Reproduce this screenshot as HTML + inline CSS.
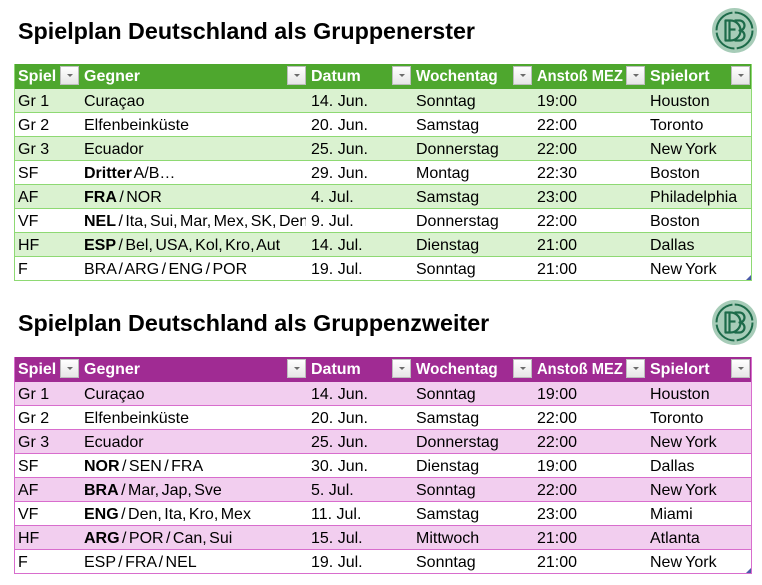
<!DOCTYPE html>
<html>
<head>
<meta charset="utf-8">
<style>
html,body{margin:0;padding:0;background:#fff;}
body{width:762px;height:585px;position:relative;overflow:hidden;font-family:"Liberation Sans",Arial,sans-serif;color:#000;}
.title{position:absolute;left:18px;font-weight:bold;font-size:23.3px;line-height:28px;white-space:nowrap;color:#000;}
.tbl{position:absolute;left:14px;width:738px;box-sizing:border-box;}
.g{border-left:1px solid #8ed973;border-right:1px solid #8ed973;}
.p{border-left:1px solid #d86dcd;border-right:1px solid #d86dcd;}
.hd{position:relative;height:25px;}
.g .hd{background:#4ea72e;}
.p .hd{background:#a02b93;}
.r{position:relative;height:24px;box-sizing:border-box;}
.g .r{border-bottom:1px solid #8ed973;}
.p .r{border-bottom:1px solid #d86dcd;}
.g .b{background:#daf2d0;}
.p .b{background:#f2ceef;}
.c{position:absolute;top:1px;line-height:24px;font-size:16px;white-space:nowrap;}
.hd .c{color:#fff;font-weight:bold;top:1px;}
.c1{left:3px;}
.c2{left:69px;width:222px;overflow:hidden;}
.r .c2{word-spacing:-2px;}
.r .c6{word-spacing:-1px;}
.c3{left:296px;}
.c4{left:401px;}
.c5{left:522px;}
.c6{left:635px;}
.dd{position:absolute;top:2px;width:19px;height:19px;box-sizing:border-box;border:1px solid #bdbdbd;background:linear-gradient(#ffffff,#e6e6e6);}
.dd:after{content:"";position:absolute;left:6px;top:7px;border-left:3px solid transparent;border-right:3px solid transparent;border-top:3px solid #6b6b6b;}
.sq{display:inline-block;transform-origin:left center;}
.corner{position:absolute;right:0;bottom:0;width:5px;height:5px;background:#4a5aa8;clip-path:polygon(100% 0,100% 100%,0 100%);}
.logo{position:absolute;}
</style>
</head>
<body>

<div class="title" style="top:17px;">Spielplan Deutschland als Gruppenerster</div>

<svg class="logo" style="left:711px;top:7px;" width="47" height="47" viewBox="-23.5 -23.5 47 47">
  <circle cx="0" cy="0" r="22.5" fill="#a7ccb8"/>
  <circle cx="0" cy="0" r="18" fill="none" stroke="#1d6b4a" stroke-width="2" stroke-dasharray="26 2.3"/>
  <g fill="none" stroke="#1d6b4a" stroke-width="2.2" stroke-linejoin="round">
    <path d="M-9,-10 L-9,10 L-4,10 A10,10 0 0 0 -4,-10 Z"/>
    <path d="M-5,-10 L-5,10"/>
    <path d="M-5,-1 L1,-1"/>
    <path d="M0,-10 L5,-10 A5,5 0 0 1 5,0 A5,5 0 0 1 5,10 L0,10"/>
  </g>
</svg>

<div class="tbl g" style="top:64px;">
  <div class="hd">
    <span class="c c1">Spiel</span><div class="dd" style="left:45px;"></div>
    <span class="c c2" style="width:200px;">Gegner</span><div class="dd" style="left:272px;"></div>
    <span class="c c3">Datum</span><div class="dd" style="left:377px;"></div>
    <span class="c c4"><span class="sq" style="transform:scaleX(0.95)">Wochentag</span></span><div class="dd" style="left:498px;"></div>
    <span class="c c5"><span class="sq" style="transform:scaleX(0.92)">Anstoß MEZ</span></span><div class="dd" style="left:611px;"></div>
    <span class="c c6">Spielort</span><div class="dd" style="left:716px;"></div>
  </div>
  <div class="r b"><span class="c c1">Gr 1</span><span class="c c2">Curaçao</span><span class="c c3">14. Jun.</span><span class="c c4">Sonntag</span><span class="c c5">19:00</span><span class="c c6">Houston</span></div>
  <div class="r"><span class="c c1">Gr 2</span><span class="c c2">Elfenbeinküste</span><span class="c c3">20. Jun.</span><span class="c c4">Samstag</span><span class="c c5">22:00</span><span class="c c6">Toronto</span></div>
  <div class="r b"><span class="c c1">Gr 3</span><span class="c c2">Ecuador</span><span class="c c3">25. Jun.</span><span class="c c4">Donnerstag</span><span class="c c5">22:00</span><span class="c c6">New York</span></div>
  <div class="r"><span class="c c1">SF</span><span class="c c2"><b>Dritter</b> A/B…</span><span class="c c3">29. Jun.</span><span class="c c4">Montag</span><span class="c c5">22:30</span><span class="c c6">Boston</span></div>
  <div class="r b"><span class="c c1">AF</span><span class="c c2"><b>FRA</b> / NOR</span><span class="c c3">4. Jul.</span><span class="c c4">Samstag</span><span class="c c5">23:00</span><span class="c c6">Philadelphia</span></div>
  <div class="r"><span class="c c1">VF</span><span class="c c2"><b>NEL</b> / Ita, Sui, Mar, Mex, SK, Den</span><span class="c c3">9. Jul.</span><span class="c c4">Donnerstag</span><span class="c c5">22:00</span><span class="c c6">Boston</span></div>
  <div class="r b"><span class="c c1">HF</span><span class="c c2"><b>ESP</b> / Bel, USA, Kol, Kro, Aut</span><span class="c c3">14. Jul.</span><span class="c c4">Dienstag</span><span class="c c5">21:00</span><span class="c c6">Dallas</span></div>
  <div class="r"><span class="c c1">F</span><span class="c c2">BRA / ARG / ENG / POR</span><span class="c c3">19. Jul.</span><span class="c c4">Sonntag</span><span class="c c5">21:00</span><span class="c c6">New York</span><div class="corner"></div></div>
</div>

<div class="title" style="top:309px;">Spielplan Deutschland als Gruppenzweiter</div>

<svg class="logo" style="left:711px;top:299px;" width="47" height="47" viewBox="-23.5 -23.5 47 47">
  <circle cx="0" cy="0" r="22.5" fill="#a7ccb8"/>
  <circle cx="0" cy="0" r="18" fill="none" stroke="#1d6b4a" stroke-width="2" stroke-dasharray="26 2.3"/>
  <g fill="none" stroke="#1d6b4a" stroke-width="2.2" stroke-linejoin="round">
    <path d="M-9,-10 L-9,10 L-4,10 A10,10 0 0 0 -4,-10 Z"/>
    <path d="M-5,-10 L-5,10"/>
    <path d="M-5,-1 L1,-1"/>
    <path d="M0,-10 L5,-10 A5,5 0 0 1 5,0 A5,5 0 0 1 5,10 L0,10"/>
  </g>
</svg>

<div class="tbl p" style="top:357px;">
  <div class="hd">
    <span class="c c1">Spiel</span><div class="dd" style="left:45px;"></div>
    <span class="c c2" style="width:200px;">Gegner</span><div class="dd" style="left:272px;"></div>
    <span class="c c3">Datum</span><div class="dd" style="left:377px;"></div>
    <span class="c c4"><span class="sq" style="transform:scaleX(0.95)">Wochentag</span></span><div class="dd" style="left:498px;"></div>
    <span class="c c5"><span class="sq" style="transform:scaleX(0.92)">Anstoß MEZ</span></span><div class="dd" style="left:611px;"></div>
    <span class="c c6">Spielort</span><div class="dd" style="left:716px;"></div>
  </div>
  <div class="r b"><span class="c c1">Gr 1</span><span class="c c2">Curaçao</span><span class="c c3">14. Jun.</span><span class="c c4">Sonntag</span><span class="c c5">19:00</span><span class="c c6">Houston</span></div>
  <div class="r"><span class="c c1">Gr 2</span><span class="c c2">Elfenbeinküste</span><span class="c c3">20. Jun.</span><span class="c c4">Samstag</span><span class="c c5">22:00</span><span class="c c6">Toronto</span></div>
  <div class="r b"><span class="c c1">Gr 3</span><span class="c c2">Ecuador</span><span class="c c3">25. Jun.</span><span class="c c4">Donnerstag</span><span class="c c5">22:00</span><span class="c c6">New York</span></div>
  <div class="r"><span class="c c1">SF</span><span class="c c2"><b>NOR</b> / SEN / FRA</span><span class="c c3">30. Jun.</span><span class="c c4">Dienstag</span><span class="c c5">19:00</span><span class="c c6">Dallas</span></div>
  <div class="r b"><span class="c c1">AF</span><span class="c c2"><b>BRA</b> / Mar, Jap, Sve</span><span class="c c3">5. Jul.</span><span class="c c4">Sonntag</span><span class="c c5">22:00</span><span class="c c6">New York</span></div>
  <div class="r"><span class="c c1">VF</span><span class="c c2"><b>ENG</b> / Den, Ita, Kro, Mex</span><span class="c c3">11. Jul.</span><span class="c c4">Samstag</span><span class="c c5">23:00</span><span class="c c6">Miami</span></div>
  <div class="r b"><span class="c c1">HF</span><span class="c c2"><b>ARG</b> / POR / Can, Sui</span><span class="c c3">15. Jul.</span><span class="c c4">Mittwoch</span><span class="c c5">21:00</span><span class="c c6">Atlanta</span></div>
  <div class="r"><span class="c c1">F</span><span class="c c2">ESP / FRA / NEL</span><span class="c c3">19. Jul.</span><span class="c c4">Sonntag</span><span class="c c5">21:00</span><span class="c c6">New York</span><div class="corner"></div></div>
</div>

</body>
</html>
